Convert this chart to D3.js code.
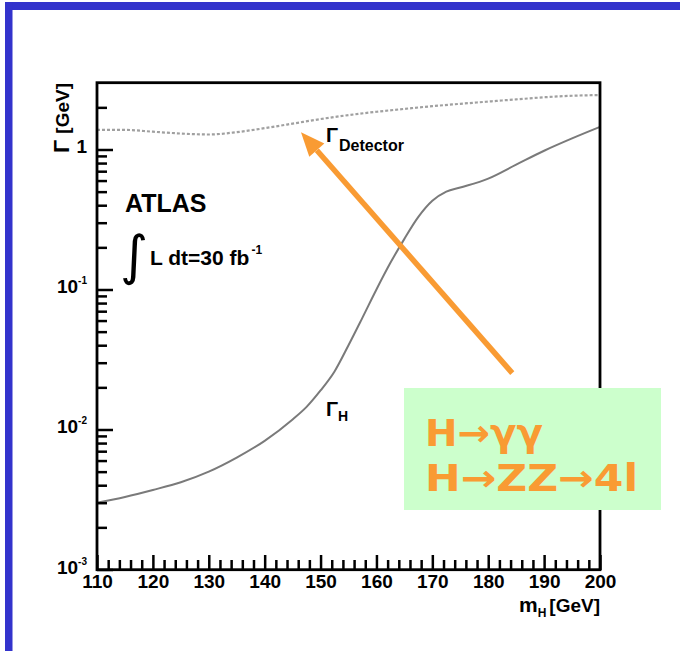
<!DOCTYPE html>
<html>
<head>
<meta charset="utf-8">
<script src="https://cdn.jsdelivr.net/npm/d3@7"></script>
<style>
  body { margin: 0; background: #fff; }
  svg { display: block; }
  text { font-family: "Liberation Sans", Arial, sans-serif; }
</style>
</head>
<body>
<svg id="chart" width="680" height="651"></svg>
<script>
// natural width of the SM Higgs [GeV] vs mass [GeV]
const massH = [110, 115, 120, 125, 130, 135, 140, 145, 147.5, 150, 152.5, 155, 157.5, 160, 162.5, 165, 167.5, 170, 172.5, 175, 180, 185, 190, 195, 200];
const gammaH = [0.0030, 0.0033, 0.0037, 0.0042, 0.0050, 0.0063, 0.0083, 0.0118, 0.0145, 0.0190, 0.026, 0.040, 0.063, 0.100, 0.155, 0.23, 0.33, 0.43, 0.50, 0.535, 0.62, 0.78, 0.98, 1.20, 1.45];
// detector resolution [GeV] vs mass [GeV]
const massDet = [110, 115, 120, 125, 130, 135, 140, 145, 150, 155, 160, 165, 170, 175, 180, 185, 190, 195, 200];
const gammaDet = [1.38, 1.38, 1.34, 1.30, 1.28, 1.33, 1.42, 1.53, 1.65, 1.76, 1.86, 1.95, 2.04, 2.12, 2.20, 2.28, 2.36, 2.42, 2.45];

const xMajor = [110, 120, 130, 140, 150, 160, 170, 180, 190, 200];
const xMinor = d3.range(112, 200, 2).filter(d => d % 10 !== 0);
const yMajor = [0.001, 0.01, 0.1, 1];
const yMajorLabels = [["10", "-3"], ["10", "-2"], ["10", "-1"], ["1", ""]];
const yMinor = [0.002, 0.003, 0.004, 0.005, 0.006, 0.007, 0.008, 0.009,
  0.02, 0.03, 0.04, 0.05, 0.06, 0.07, 0.08, 0.09,
  0.2, 0.3, 0.4, 0.5, 0.6, 0.7, 0.8, 0.9, 2];

// arrow annotation, in data units: [mass, width]
const arrowTail = [184.3, 0.0253];
const arrowHead = [146.5, 1.33];
const channels = ["H\u2192\u03b3\u03b3", "H\u2192ZZ\u21924l"];

const svg = d3.select("#chart");

// blue slide frame
svg.append("rect").attr("x", 5).attr("y", 2).attr("width", 675).attr("height", 8).attr("fill", "#3333cc");
svg.append("rect").attr("x", 5).attr("y", 2).attr("width", 7.5).attr("height", 649).attr("fill", "#3333cc");

const x = d3.scaleLinear().domain([110, 200]).range([97, 600]);
const y = d3.scaleLog().domain([0.001, 3]).range([569.5, 82.7]);

// curves
const line = (ms, vals) => d3.line()
  .x((d, i) => x(ms[i]))
  .y(d => y(d))
  .curve(d3.curveMonotoneX)(vals);

svg.append("path")
  .attr("d", line(massDet, gammaDet))
  .attr("fill", "none")
  .attr("stroke", "#a0a0a0")
  .attr("stroke-width", 2.2)
  .attr("stroke-dasharray", "3,2");

svg.append("path")
  .attr("d", line(massH, gammaH))
  .attr("fill", "none")
  .attr("stroke", "#7a7a7a")
  .attr("stroke-width", 2);

// axes, ticks drawn inward
const xAxis = svg.append("g").attr("transform", "translate(0,570)")
  .call(d3.axisBottom(x).tickValues(xMajor).tickSize(-15).tickPadding(5).tickFormat(d3.format("d")));
svg.append("g").attr("transform", "translate(0,570)")
  .call(d3.axisBottom(x).tickValues(xMinor).tickSize(-10).tickFormat(""));

const yAxis = svg.append("g").attr("transform", "translate(97,0)")
  .call(d3.axisLeft(y).tickValues(yMajor).tickSize(-16).tickPadding(10).tickFormat(""));
svg.append("g").attr("transform", "translate(97,0)")
  .call(d3.axisLeft(y).tickValues(yMinor).tickSize(-10).tickFormat(""));

svg.selectAll(".domain").remove();
svg.selectAll(".tick line").attr("stroke", "#000").attr("stroke-width", 2.5);

xAxis.selectAll(".tick text")
  .attr("fill", "#000")
  .style("font-size", "19px")
  .style("font-weight", "bold");

yAxis.selectAll(".tick text").each(function (d, i) {
  const t = d3.select(this).attr("fill", "#000").attr("dy", "0.35em");
  const lab = yMajorLabels[i];
  t.append("tspan").text(lab[0]).style("font-size", "19px").style("font-weight", "bold");
  if (lab[1]) {
    t.append("tspan").text(lab[1]).attr("dy", "-9").style("font-size", "10px").style("font-weight", "bold");
  }
});

// plot frame
svg.append("rect")
  .attr("x", 97).attr("y", 82.7)
  .attr("width", 503).attr("height", 487)
  .attr("fill", "none")
  .attr("stroke", "#000")
  .attr("stroke-width", 2.8);

// axis titles
const yt = svg.append("text")
  .attr("transform", "translate(69,83) rotate(-90)")
  .attr("text-anchor", "end")
  .style("font-weight", "bold");
yt.append("tspan").text("\u0393 ").style("font-size", "22px");
yt.append("tspan").text("[GeV]").style("font-size", "19px");

const xt = svg.append("text")
  .attr("x", 600).attr("y", 612)
  .attr("text-anchor", "end")
  .style("font-weight", "bold")
  .style("font-size", "21px");
xt.append("tspan").text("m");
xt.append("tspan").text("H").attr("dy", 5).style("font-size", "12px");
xt.append("tspan").text("[GeV]").attr("dy", -5).attr("dx", 3).style("font-size", "19px");

// ATLAS label
svg.append("text").attr("x", 125).attr("y", 212)
  .style("font-weight", "bold").style("font-size", "25px").text("ATLAS");
svg.append("text").attr("x", 120).attr("y", 274)
  .style("font-family", "DejaVu Sans").style("font-size", "54px").text("\u222b");
const lumi = svg.append("text").attr("x", 150).attr("y", 265)
  .style("font-weight", "bold").style("font-size", "21px");
lumi.append("tspan").text("L dt=30 fb");
lumi.append("tspan").text("-1").attr("dy", -11).attr("dx", 2).style("font-size", "12px");

// curve labels
const lh = svg.append("text").attr("x", 326).attr("y", 416)
  .style("font-weight", "bold").style("font-size", "20px");
lh.append("tspan").text("\u0393");
lh.append("tspan").text("H").attr("dy", 5).style("font-size", "14px");

const ld = svg.append("text").attr("x", 326).attr("y", 142)
  .style("font-weight", "bold").style("font-size", "20px");
ld.append("tspan").text("\u0393");
ld.append("tspan").text("Detector").attr("dy", 9).attr("dx", 1).style("font-size", "16px");

// orange arrow
const orange = "#f99b33";
const x0 = x(arrowTail[0]), y0 = y(arrowTail[1]);
const x1 = x(arrowHead[0]), y1 = y(arrowHead[1]);
const ang = Math.atan2(y1 - y0, x1 - x0);
const headLen = 24, headW = 10;
const bx = x1 - headLen * Math.cos(ang), by = y1 - headLen * Math.sin(ang);
svg.append("line")
  .attr("x1", x0).attr("y1", y0).attr("x2", bx).attr("y2", by)
  .attr("stroke", orange).attr("stroke-width", 5.5);
svg.append("path")
  .attr("d", d3.line()([
    [x1, y1],
    [bx + headW * Math.sin(ang), by - headW * Math.cos(ang)],
    [bx - headW * Math.sin(ang), by + headW * Math.cos(ang)]
  ]) + "Z")
  .attr("fill", orange);

// channel box
svg.append("rect")
  .attr("x", 404).attr("y", 388).attr("width", 257).attr("height", 122)
  .attr("fill", "#ccffcc");
svg.selectAll(".chan")
  .data(channels)
  .enter().append("text")
  .attr("class", "chan")
  .attr("x", 425)
  .attr("y", (d, i) => 446 + i * 45)
  .attr("textLength", (d, i) => i === 0 ? 118 : 213)
  .attr("lengthAdjust", "spacingAndGlyphs")
  .attr("fill", orange)
  .style("font-family", "DejaVu Sans")
  .style("font-weight", "bold")
  .style("font-size", "37px")
  .text(d => d);
</script>
</body>
</html>
